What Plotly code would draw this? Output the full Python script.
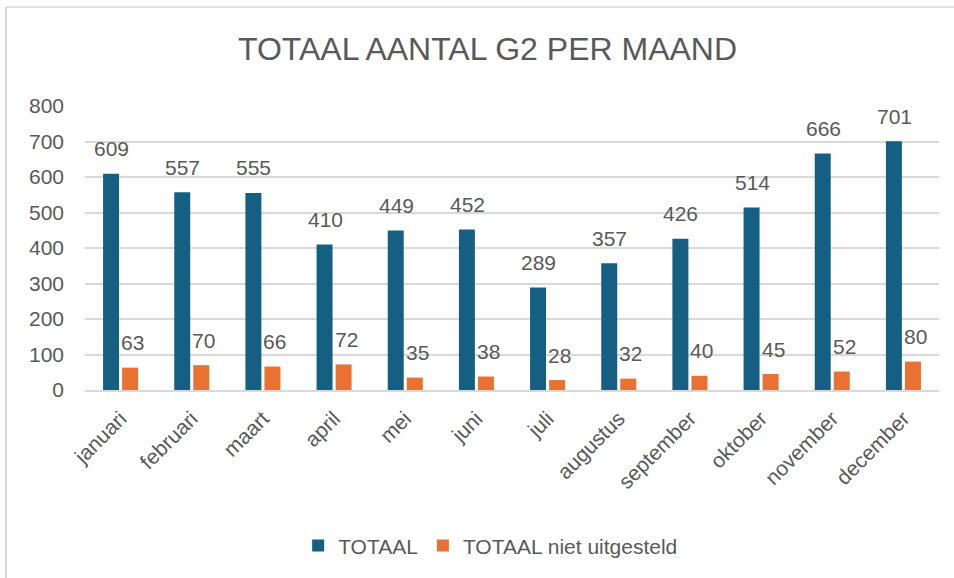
import plotly.graph_objects as go

months = ["januari", "februari", "maart", "april", "mei", "juni", "juli",
          "augustus", "september", "oktober", "november", "december"]
totaal = [609, 557, 555, 410, 449, 452, 289, 357, 426, 514, 666, 701]
niet_uitgesteld = [63, 70, 66, 72, 35, 38, 28, 32, 40, 45, 52, 80]
y_ticks = [0, 100, 200, 300, 400, 500, 600, 700, 800]

BLUE = "#156082"
ORANGE = "#E97132"
TXT = "#595959"
FONT = "Liberation Sans, Arial, sans-serif"

fig = go.Figure()
fig.add_trace(go.Bar(x=months, y=totaal, name="TOTAAL", marker_color=BLUE,
                     marker_line_width=0))
fig.add_trace(go.Bar(x=months, y=niet_uitgesteld, name="TOTAAL niet uitgesteld",
                     marker_color=ORANGE, marker_line_width=0))

annotations = []
for m, v in zip(months, totaal):
    annotations.append(dict(x=m, y=v, xref="x", yref="y", text=str(v), showarrow=False,
                            xshift=-9, yshift=25, yanchor="middle",
                            font=dict(size=21, color=TXT, family=FONT)))
for m, v in zip(months, niet_uitgesteld):
    annotations.append(dict(x=m, y=v, xref="x", yref="y", text=str(v), showarrow=False,
                            xshift=12, yshift=25, yanchor="middle",
                            font=dict(size=21, color=TXT, family=FONT)))

fig.update_layout(
    width=954, height=578,
    margin=dict(l=85, r=15, t=106, b=188),
    paper_bgcolor="white", plot_bgcolor="white",
    barmode="group", bargap=0.465, bargroupgap=0.16,
    title=dict(text="TOTAAL AANTAL G2 PER MAAND", x=0.511, xanchor="center",
               y=0.915, yanchor="middle",
               font=dict(size=32, color=TXT, family=FONT)),
    showlegend=True,
    legend=dict(orientation="h", x=0.475, xanchor="center", y=-0.549, yanchor="middle",
                font=dict(size=21, color=TXT, family=FONT), itemsizing="constant",
                traceorder="normal"),
    annotations=annotations,
    shapes=[
        dict(type="line", xref="paper", yref="paper", x0=-0.0925, x1=1.3, y0=1.3486, y1=1.3486,
             line=dict(color="#D9D9D9", width=1.5)),
        dict(type="line", xref="paper", yref="paper", x0=-0.0925, x1=-0.0925, y0=1.3486, y1=-0.8,
             line=dict(color="#D9D9D9", width=2)),
    ],
)
fig.update_xaxes(tickangle=-45, tickfont=dict(size=21, color=TXT, family=FONT),
                 showline=True, linecolor="#D9D9D9", linewidth=2, ticks="",
                 showgrid=False, ticklabelstandoff=6)
fig.update_yaxes(range=[0, 800], tickvals=y_ticks, showgrid=True, gridcolor="#D9D9D9",
                 gridwidth=1.5, zeroline=False, showline=False, ticks="",
                 tickfont=dict(size=21, color=TXT, family=FONT), ticklabelstandoff=20)

fig.write_html("out.html", config={"displayModeBar": False},
               post_script="document.body.style.margin='0';")
